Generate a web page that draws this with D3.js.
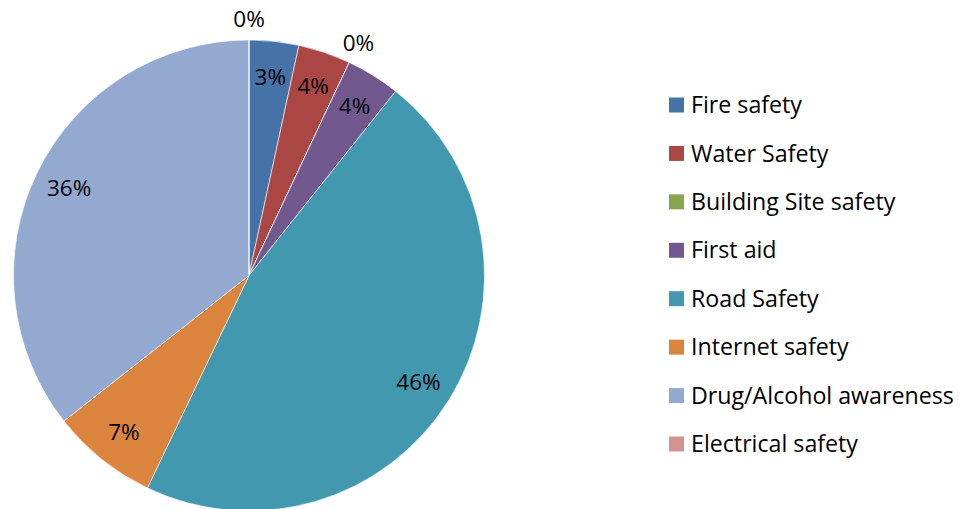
<!DOCTYPE html>
<html><head><meta charset="utf-8">
<script src="https://cdn.jsdelivr.net/npm/d3@7"></script>
<style>body{margin:0;background:#fff}svg{display:block}</style>
</head><body>
<svg id="c" width="962" height="509"></svg>
<script>
const categories = ["Fire safety","Water Safety","Building Site safety","First aid","Road Safety","Internet safety","Drug/Alcohol awareness","Electrical safety"];
const values = [3.4, 3.6, 0, 3.7, 46.4, 7.3, 35.6, 0];
const colors = ["#4572A7","#AA4643","#89A54E","#71588F","#4198AF","#DB843D","#93A9CF","#D19392"];

const svg = d3.select("#c");
const cx = 249, cy = 275.5, R = 235.5;
const font = "'Open Sans', sans-serif";
const total = d3.sum(values);
const pie = d3.pie().sort(null).value(d => d)(values);
const arc = d3.arc().innerRadius(0).outerRadius(R);
const g = svg.append("g").attr("transform", `translate(${cx},${cy})`);
g.selectAll("path").data(pie).join("path")
  .attr("d", arc).attr("fill", (d,i) => colors[i])
  .attr("stroke", "#fff").attr("stroke-width", 0.6);

const inner = d3.arc().innerRadius(200).outerRadius(200);
const outer = d3.arc().innerRadius(257).outerRadius(257);
g.selectAll("text.lbl").data(pie).join("text")
  .attr("class","lbl")
  .attr("transform", d => `translate(${(d.value > 0 ? inner : outer).centroid(d)})`)
  .attr("text-anchor","middle").attr("dy","0.36em")
  .style("font-family", font).style("font-size","22.5px").attr("fill","#000")
  .text(d => Math.round(d.value / total * 100) + "%");

const lg = svg.append("g");
const rowY = d3.scalePoint().domain(categories).range([105, 444]);
const texts = [];
categories.forEach((c, i) => {
  const y = rowY(c);
  lg.append("rect").attr("x", 669).attr("y", y - 7.5).attr("width", 15).attr("height", 15).attr("fill", colors[i]);
  texts.push(lg.append("text").attr("x", 691).attr("y", y).attr("dy","0.35em")
    .style("font-family", font).style("font-size","20px").attr("fill","#000").text(c));
});
// fit the longest legend label to the reference width
const maxW = d3.max(texts, t => t.node().getComputedTextLength());
const fs = 20 * 263 / maxW;
texts.forEach(t => t.style("font-size", fs + "px"));
</script>
</body></html>
